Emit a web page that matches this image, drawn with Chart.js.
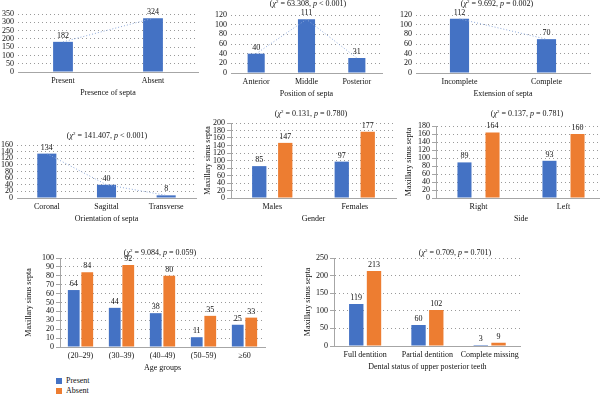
<!DOCTYPE html>
<html>
<head>
<meta charset="utf-8">
<script src="https://cdn.jsdelivr.net/npm/chart.js@4.4.0/dist/chart.umd.min.js"></script>
<style>
  html, body { margin: 0; padding: 0; background: #fff; width: 600px; height: 395px; overflow: hidden; }
  body { position: relative; font-family: "Liberation Serif", serif; color: #111; }
  canvas { position: absolute; }
  .stat { position: absolute; font-size: 8px; line-height: 10px; white-space: nowrap; transform: translateX(-50%); }
  .stat sup { font-size: 5px; line-height: 0; vertical-align: 3px; }
  .legend { position: absolute; left: 56px; font-size: 8px; line-height: 10px; }
  .legend span { display: inline-block; width: 6px; height: 6px; margin-right: 4px; vertical-align: -0.5px; }
</style>
</head>
<body>
<canvas id="presence"></canvas>
<canvas id="position"></canvas>
<canvas id="extension"></canvas>
<canvas id="orientation"></canvas>
<canvas id="gender"></canvas>
<canvas id="side"></canvas>
<canvas id="age"></canvas>
<canvas id="dental"></canvas>

<div class="stat" style="left:308px;top:-1px">(<i>χ</i><sup>2</sup> = 63.308, <i>p</i> &lt; 0.001)</div>
<div class="stat" style="left:497px;top:-1px">(<i>χ</i><sup>2</sup> = 9.692, <i>p</i> = 0.002)</div>
<div class="stat" style="left:107px;top:131px">(<i>χ</i><sup>2</sup> = 141.407, <i>p</i> &lt; 0.001)</div>
<div class="stat" style="left:311px;top:109px">(<i>χ</i><sup>2</sup> = 0.131, <i>p</i> = 0.780)</div>
<div class="stat" style="left:527px;top:109px">(<i>χ</i><sup>2</sup> = 0.137, <i>p</i> = 0.781)</div>
<div class="stat" style="left:160px;top:248px">(<i>χ</i><sup>2</sup> = 9.084, <i>p</i> = 0.059)</div>
<div class="stat" style="left:455px;top:248px">(<i>χ</i><sup>2</sup> = 0.709, <i>p</i> = 0.701)</div>

<div class="legend" style="top:376px"><span style="background:#4472c4"></span>Present</div>
<div class="legend" style="top:386px"><span style="background:#ed7d31"></span>Absent</div>

<script>
// values
const presenceLabels = ['Present', 'Absent'];
const presenceValues = [182, 324];

const positionLabels = ['Anterior', 'Middle', 'Posterior'];
const positionValues = [40, 111, 31];

const extensionLabels = ['Incomplete', 'Complete'];
const extensionValues = [112, 70];

const orientationLabels = ['Coronal', 'Sagittal', 'Transverse'];
const orientationValues = [134, 40, 8];

const genderLabels = ['Males', 'Females'];
const genderPresent = [85, 97];
const genderAbsent = [147, 177];

const sideLabels = ['Right', 'Left'];
const sidePresent = [89, 93];
const sideAbsent = [164, 160];

const ageLabels = ['(20–29)', '(30–39)', '(40–49)', '(50–59)', '≥60'];
const agePresent = [64, 44, 38, 11, 25];
const ageAbsent = [84, 92, 80, 35, 33];

const dentalLabels = ['Full dentition', 'Partial dentition', 'Complete missing'];
const dentalPresent = [119, 60, 3];
const dentalAbsent = [213, 102, 9];

const BLUE = '#4472c4';
const ORANGE = '#ed7d31';
const AXIS = '#a6a6a6';

Chart.defaults.font.family = '"Liberation Serif", serif';
Chart.defaults.font.size = 8;
Chart.defaults.color = '#111';

// numbers above the bars
const valueLabels = {
  id: 'valueLabels',
  afterDatasetsDraw(chart) {
    const ctx = chart.ctx;
    ctx.save();
    ctx.font = '8px "Liberation Serif", serif';
    ctx.fillStyle = '#111';
    ctx.textAlign = 'center';
    ctx.textBaseline = 'bottom';
    chart.data.datasets.forEach((ds, i) => {
      if (ds.type === 'line') return;
      chart.getDatasetMeta(i).data.forEach((bar, j) => {
        ctx.fillText(ds.data[j], bar.x, bar.y - 2);
      });
    });
    ctx.restore();
  }
};

function makeChart(id, box, labels, datasets, yMax, yStep, xTitle, withAxis) {
  const canvas = document.getElementById(id);
  const left = box.L - box.yw - 2;
  const top = box.T - 14;
  canvas.width = Math.round(box.R + 2 - left);
  canvas.height = Math.round(box.B + 28 - top);
  canvas.style.left = left + 'px';
  canvas.style.top = top + 'px';

  return new Chart(canvas, {
    type: 'bar',
    data: { labels: labels, datasets: datasets },
    options: {
      responsive: false,
      animation: false,
      layout: { padding: { left: 2, right: 2, top: 14, bottom: 2 } },
      plugins: { legend: { display: false }, tooltip: { enabled: false } },
      scales: {
        x: {
          grid: { display: false, drawTicks: false },
          border: { display: true, color: AXIS },
          ticks: { padding: 4, autoSkip: false, maxRotation: 0, minRotation: 0 },
          title: { display: true, text: xTitle, padding: 0 },
          afterFit: s => { s.height = 26; }
        },
        y: {
          min: 0,
          max: yMax,
          ticks: { stepSize: yStep, padding: withAxis ? 2 : 4, autoSkip: false },
          grid: { color: '#9a9a9a', drawTicks: withAxis, tickLength: 4, tickColor: AXIS },
          border: { display: withAxis, color: AXIS, dash: [1, 3] },
          title: { display: withAxis, text: 'Maxillary sinus septa', padding: 0 },
          afterFit: s => { s.width = box.yw; }
        }
      }
    },
    plugins: [valueLabels]
  });
}

function singleSets(values, barPct) {
  return [
    { type: 'line', data: values, borderColor: '#8eaadb', borderWidth: 1, borderDash: [1, 2],
      pointRadius: 0, fill: false, order: 0 },
    { data: values, backgroundColor: BLUE, categoryPercentage: 1, barPercentage: barPct, order: 1 }
  ];
}

function pairSets(present, absent, catPct, barPct) {
  return [
    { label: 'Present', data: present, backgroundColor: BLUE, categoryPercentage: catPct, barPercentage: barPct },
    { label: 'Absent', data: absent, backgroundColor: ORANGE, categoryPercentage: catPct, barPercentage: barPct }
  ];
}

makeChart('presence', { L: 18, R: 198, T: 14, B: 72, yw: 18 },
  presenceLabels, singleSets(presenceValues, 0.22), 350, 50, 'Presence of septa', false);

makeChart('position', { L: 231, R: 382, T: 15, B: 73, yw: 19 },
  positionLabels, singleSets(positionValues, 0.34), 120, 20, 'Position of septa', false);

makeChart('extension', { L: 416, R: 590, T: 15, B: 73, yw: 18 },
  extensionLabels, singleSets(extensionValues, 0.22), 120, 20, 'Extension of septa', false);

makeChart('orientation', { L: 17, R: 196, T: 145, B: 198, yw: 17 },
  orientationLabels, singleSets(orientationValues, 0.32), 160, 20, 'Orientation of septa', false);

makeChart('gender', { L: 231, R: 396, T: 123, B: 198, yw: 28 },
  genderLabels, pairSets(genderPresent, genderAbsent, 0.63, 0.55), 200, 20, 'Gender', true);

makeChart('side', { L: 436, R: 606, T: 126, B: 198, yw: 32 },
  sideLabels, pairSets(sidePresent, sideAbsent, 0.66, 0.5), 180, 20, 'Side', true);

makeChart('age', { L: 60, R: 265, T: 258, B: 347, yw: 36 },
  ageLabels, pairSets(agePresent, ageAbsent, 0.66, 0.87), 100, 10, 'Age groups', true);

makeChart('dental', { L: 334, R: 521, T: 258, B: 346, yw: 31 },
  dentalLabels, pairSets(dentalPresent, dentalAbsent, 0.57, 0.81), 250, 50, 'Dental status of upper posterior teeth', true);
</script>
</body>
</html>
